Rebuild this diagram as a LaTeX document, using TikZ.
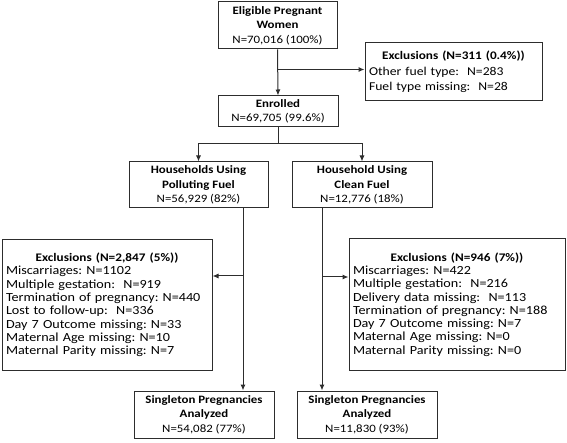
\documentclass[tikz,border=0pt]{standalone}
\usepackage{fontspec}
\setmainfont{Carlito}[FakeStretch=1.14]
\usetikzlibrary{arrows.meta,calc}
\definecolor{lc}{RGB}{45,45,45}
\begin{document}
\frenchspacing
\begin{tikzpicture}[x=1pt,y=-1pt,
  box/.style={draw=lc, line width=1pt, fill=white, inner sep=0pt, align=center,
    font=\fontsize{11.3}{14.5}\selectfont},
  exbox/.style={draw=lc, line width=1pt, fill=white, inner xsep=4pt, inner ysep=0pt, align=left,
    font=\fontsize{12.4}{13.3}\selectfont},
  conn/.style={draw=lc, line width=1pt},
  arr/.style={conn, -{Latex[length=6pt,width=5pt]}}]
\useasboundingbox (0,0) rectangle (567,443);

\node[box, minimum width=119pt, minimum height=47pt] (elig) at (277.5,25.5)
  {\textbf{Eligible Pregnant}\\\textbf{Women}\\N=70,016 (100\%)};
\node[exbox, text width=169pt, minimum height=58pt, font=\fontsize{12}{15.5}\selectfont] (ex0) at (453.5,72)
  {\makebox[\linewidth][c]{\fontsize{11.6}{15.5}\selectfont\bfseries Exclusions (N=311 (0.4\%))}\\
   Other fuel type:~ N=283\\
   Fuel type missing:~ N=28};
\node[box, minimum width=120pt, minimum height=31pt] (enr) at (278,111.5)
  {\textbf{Enrolled}\\N=69,705 (99.6\%)};
\node[box, minimum width=139pt, minimum height=46pt] (poll) at (198.5,185)
  {\textbf{Households Using}\\\textbf{Polluting Fuel}\\N=56,929 (82\%)};
\node[box, minimum width=140pt, minimum height=46pt] (clean) at (362,185)
  {\textbf{Household Using}\\\textbf{Clean Fuel}\\N=12,776 (18\%)};
\node[exbox, text width=202pt, minimum height=130pt] (ex1) at (107,305)
  {\makebox[\linewidth][c]{\fontsize{11.6}{13.3}\selectfont\bfseries Exclusions (N=2,847 (5\%))}\\
   Miscarriages: N=1102\\
   Multiple gestation:~ N=919\\
   Termination of pregnancy: N=440\\
   Lost to follow-up:~ N=336\\
   Day 7 Outcome missing: N=33\\
   Maternal Age missing: N=10\\
   Maternal Parity missing: N=7};
\node[exbox, text width=208pt, minimum height=131pt] (ex2) at (457,304.5)
  {\makebox[\linewidth][c]{\fontsize{11.6}{13.3}\selectfont\bfseries Exclusions (N=946 (7\%))}\\
   Miscarriages: N=422\\
   Multiple gestation:~ N=216\\
   Delivery data missing:~ N=113\\
   Termination of pregnancy: N=188\\
   Day 7 Outcome missing: N=7\\
   Maternal Age missing: N=0\\
   Maternal Parity missing: N=0};
\node[box, minimum width=140pt, minimum height=47pt] (s1) at (204,414.5)
  {\textbf{Singleton Pregnancies}\\\textbf{Analyzed}\\N=54,082 (77\%)};
\node[box, minimum width=140pt, minimum height=47pt] (s2) at (367,414.5)
  {\textbf{Singleton Pregnancies}\\\textbf{Analyzed}\\N=11,830 (93\%)};

% connectors
\draw[arr] (elig.south) -- (enr.north);
\coordinate (j0) at ($(elig.south)+(0,20)$);
\draw[arr] (j0) -- (j0 -| ex0.west);

\coordinate (j1) at ($(enr.south)+(0,16)$);
\draw[conn] (enr.south) -- (j1);
\draw[arr] (j1) -| (poll.north);
\draw[arr] (j1) -| (clean.north);

\coordinate (t1) at ($(poll.south)+(44.5,0)$);
\coordinate (t2) at ($(clean.south)+(-40,0)$);
\draw[arr] (t1) -- (t1 |- s1.north);
\draw[arr] (t2) -- (t2 |- s2.north);
\coordinate (b1) at (243,276);
\coordinate (b2) at (322,277);
\draw[arr] (t1 |- b1) -- (b1 -| ex1.east);
\draw[arr] (t2 |- b2) -- (b2 -| ex2.west);
\end{tikzpicture}
\end{document}
